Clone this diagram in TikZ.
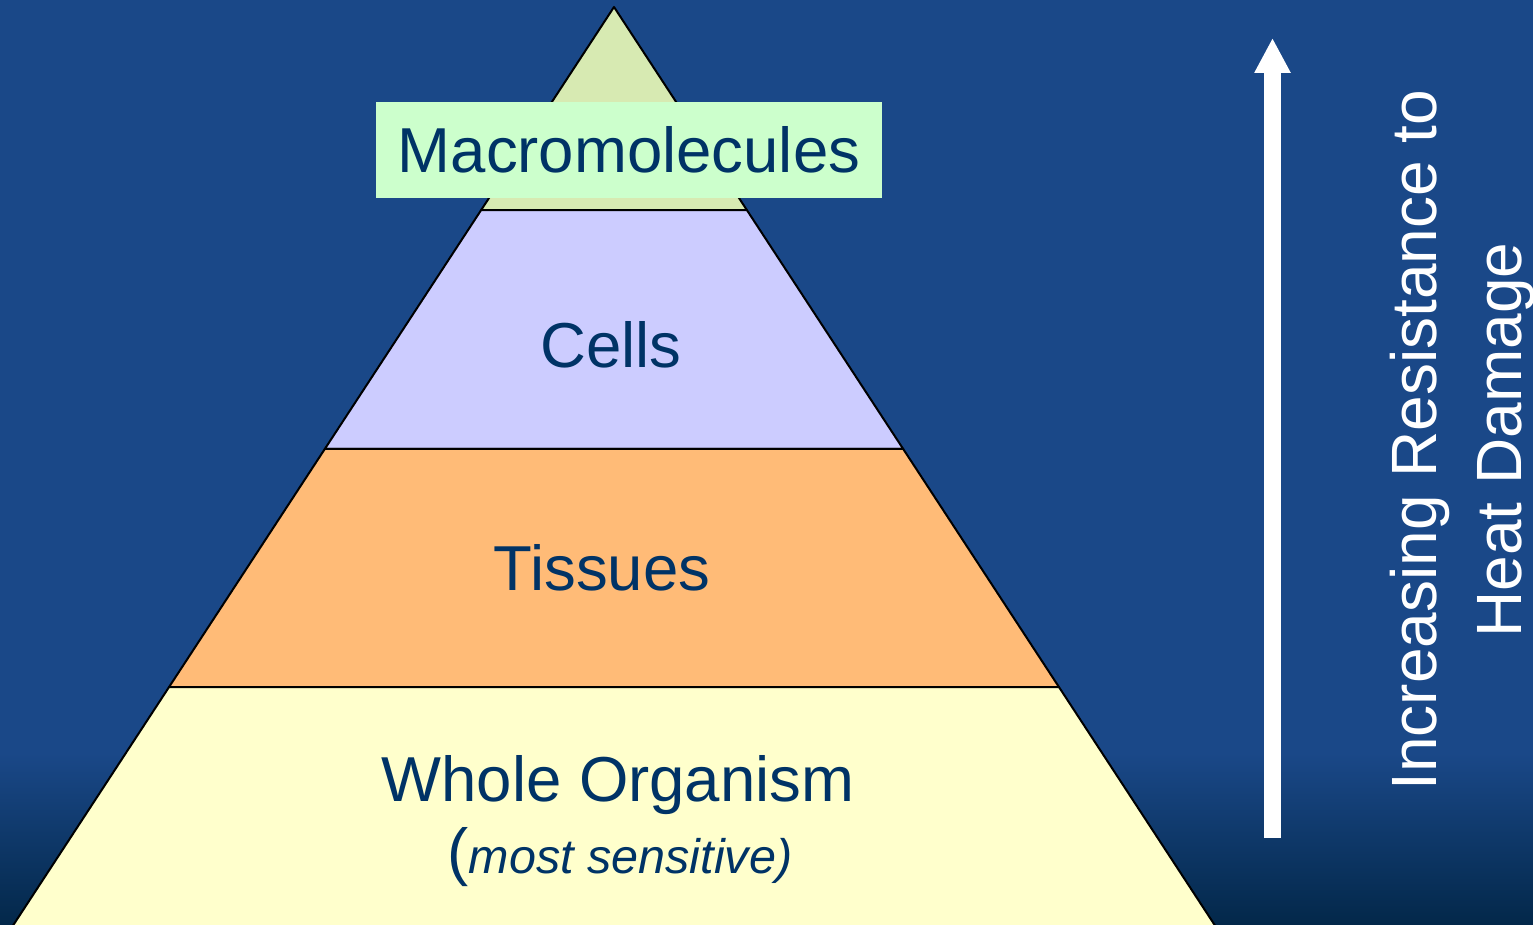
\documentclass[tikz,border=0pt]{standalone}
\usepackage{fontspec}
\setmainfont{Liberation Sans}
\usepackage{xcolor}
\usetikzlibrary{calc, arrows.meta}
\definecolor{slideblue}{HTML}{1A4888}
\definecolor{slidedark}{HTML}{03284A}
\definecolor{labelblue}{HTML}{003366}
\definecolor{topfill}{HTML}{D7EAB2}
\definecolor{macrofill}{HTML}{CCFFCC}
\definecolor{cellfill}{HTML}{CCCCFF}
\definecolor{tissuefill}{HTML}{FFBB77}
\definecolor{wholefill}{HTML}{FFFFCC}

\begin{document}
\begin{tikzpicture}[x=1pt, y=1pt]

      \def\big{\fontsize{63.5}{76}\selectfont}
      \def\small{\fontsize{48.5}{58}\selectfont}

      % fractions from the apex down to each boundary
      \def\tA{0.2214}
      \def\tB{0.4820}
      \def\tC{0.7416}

      \useasboundingbox (0,0) rectangle (1533,924);
      \fill[slideblue] (0,170) rectangle (1533,924);
      \shade[top color=slideblue, bottom color=slidedark] (0,0) rectangle (1533,171);

      \coordinate (apex)  at (614,917);
      \coordinate (baseL) at (14,0);
      \coordinate (baseR) at (1214,0);

      \begin{scope}
        \clip (0,0) rectangle (1533,924);
        \foreach \ta/\tb/\col in {0/\tA/topfill, \tA/\tB/cellfill, \tB/\tC/tissuefill, \tC/1.05/wholefill}{
          \draw[black, line width=2pt, line join=round, fill=\col]
            ($(apex)!\ta!(baseL)$) -- ($(apex)!\tb!(baseL)$) --
            ($(apex)!\tb!(baseR)$) -- ($(apex)!\ta!(baseR)$) -- cycle;
        }
      \end{scope}

      \node[fill=macrofill, minimum width=506pt, minimum height=96pt, inner sep=0pt,
            text=labelblue, font=\big] (macro) at (629,774) {Macromolecules};
      \node[anchor=base, text=labelblue, font=\big] (cells)   at (611,556) {Cells};
      \node[anchor=base, text=labelblue, font=\big] (tissues) at (602,333) {Tissues};
      \node[anchor=base, text=labelblue, font=\big] (whole)   at (618,123) {Whole Organism};
      \node[anchor=base, text=labelblue] (sensitive) at (620,51)
        {{\big(}{\small\itshape most sensitive)}};

      \coordinate (arrowfoot) at (1272.5,86);
      \coordinate (arrowtip)  at (1272.5,886);
      \draw[white, line width=17pt, -{Triangle[width=34pt, length=35pt]}] (arrowfoot) -- (arrowtip);

      \node[rotate=90, align=center, text=white, font=\fontsize{64}{85}\selectfont] (resist)
        at (1462,484) {Increasing Resistance to\\Heat Damage};

    \end{tikzpicture}
\end{document}
